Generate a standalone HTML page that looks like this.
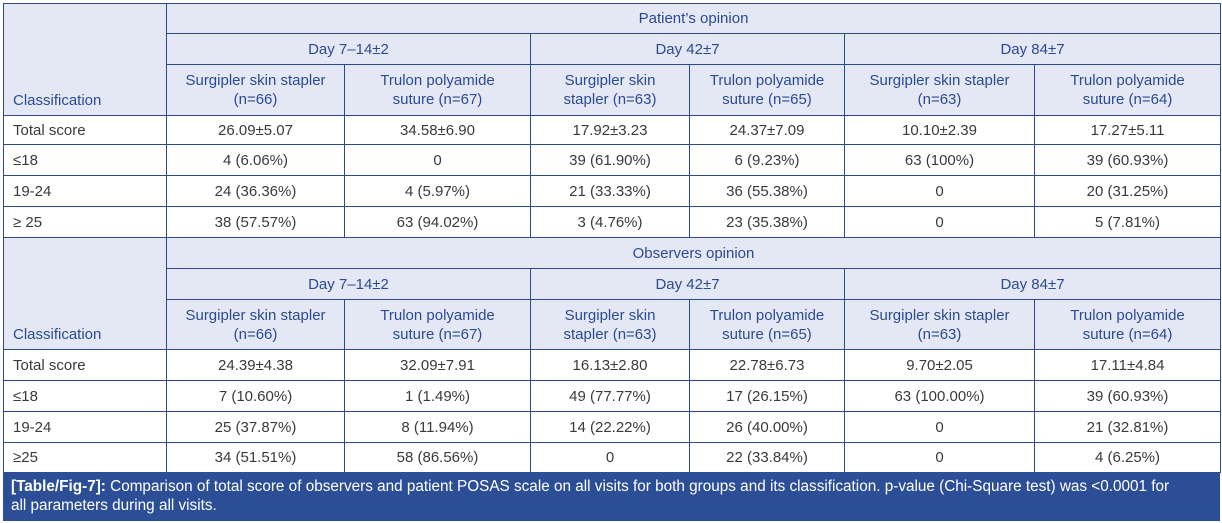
<!DOCTYPE html>
<html><head><meta charset="utf-8"><style>
body{margin:0;background:#fff;width:1222px;height:523px;overflow:hidden;font-family:"Liberation Sans",Arial,sans-serif;}
table{position:absolute;left:3px;top:3px;border-collapse:collapse;table-layout:fixed;width:1217px;}
td{border:1px solid #2c4a8c;font-size:15px;color:#3a3a3a;text-align:center;padding:0 4px;line-height:19px;}
td.l{text-align:left;padding-left:9px;}
tr.h td{background:#e3e8f4;color:#2c4a92;}
td.cls{vertical-align:bottom;padding-bottom:5px;text-align:left;padding-left:9px;}
#cap{position:absolute;left:3px;top:472px;height:49px;background:#2c4e96;color:#fff;font-size:15.3px;line-height:19px;padding:5px 0 0 8px;box-sizing:border-box;width:1217px;}
</style></head><body>
<table>
<colgroup><col style="width:163px"><col style="width:178px"><col style="width:186px"><col style="width:159px"><col style="width:155px"><col style="width:190px"><col style="width:186px"></colgroup>
<tr class="h" style="height:30px"><td class="cls" rowspan="3">Classification</td><td colspan="6">Patient’s opinion</td></tr>
<tr class="h" style="height:31px"><td colspan="2">Day 7–14±2</td><td colspan="2">Day 42±7</td><td colspan="2">Day 84±7</td></tr>
<tr class="h" style="height:51px"><td>Surgipler skin stapler<br>(n=66)</td><td>Trulon polyamide<br>suture (n=67)</td><td>Surgipler skin<br>stapler (n=63)</td><td>Trulon polyamide<br>suture (n=65)</td><td>Surgipler skin stapler<br>(n=63)</td><td>Trulon polyamide<br>suture (n=64)</td></tr>
<tr style="height:29px"><td class="l">Total score</td><td>26.09±5.07</td><td>34.58±6.90</td><td>17.92±3.23</td><td>24.37±7.09</td><td>10.10±2.39</td><td>17.27±5.11</td></tr>
<tr style="height:31px"><td class="l">≤18</td><td>4 (6.06%)</td><td>0</td><td>39 (61.90%)</td><td>6 (9.23%)</td><td>63 (100%)</td><td>39 (60.93%)</td></tr>
<tr style="height:31px"><td class="l">19-24</td><td>24 (36.36%)</td><td>4 (5.97%)</td><td>21 (33.33%)</td><td>36 (55.38%)</td><td>0</td><td>20 (31.25%)</td></tr>
<tr style="height:31px"><td class="l">≥ 25</td><td>38 (57.57%)</td><td>63 (94.02%)</td><td>3 (4.76%)</td><td>23 (35.38%)</td><td>0</td><td>5 (7.81%)</td></tr>
<tr class="h" style="height:31px"><td class="cls" rowspan="3">Classification</td><td colspan="6">Observers opinion</td></tr>
<tr class="h" style="height:31px"><td colspan="2">Day 7–14±2</td><td colspan="2">Day 42±7</td><td colspan="2">Day 84±7</td></tr>
<tr class="h" style="height:50px"><td>Surgipler skin stapler<br>(n=66)</td><td>Trulon polyamide<br>suture (n=67)</td><td>Surgipler skin<br>stapler (n=63)</td><td>Trulon polyamide<br>suture (n=65)</td><td>Surgipler skin stapler<br>(n=63)</td><td>Trulon polyamide<br>suture (n=64)</td></tr>
<tr style="height:31px"><td class="l">Total score</td><td>24.39±4.38</td><td>32.09±7.91</td><td>16.13±2.80</td><td>22.78±6.73</td><td>9.70±2.05</td><td>17.11±4.84</td></tr>
<tr style="height:31px"><td class="l">≤18</td><td>7 (10.60%)</td><td>1 (1.49%)</td><td>49 (77.77%)</td><td>17 (26.15%)</td><td>63 (100.00%)</td><td>39 (60.93%)</td></tr>
<tr style="height:31px"><td class="l">19-24</td><td>25 (37.87%)</td><td>8 (11.94%)</td><td>14 (22.22%)</td><td>26 (40.00%)</td><td>0</td><td>21 (32.81%)</td></tr>
<tr style="height:30px"><td class="l">≥25</td><td>34 (51.51%)</td><td>58 (86.56%)</td><td>0</td><td>22 (33.84%)</td><td>0</td><td>4 (6.25%)</td></tr>
</table>
<div id="cap"><b>[Table/Fig-7]:</b> Comparison of total score of observers and patient POSAS scale on all visits for both groups and its classification. p-value (Chi-Square test) was &lt;0.0001 for<br>all parameters during all visits.</div>
</body></html>
